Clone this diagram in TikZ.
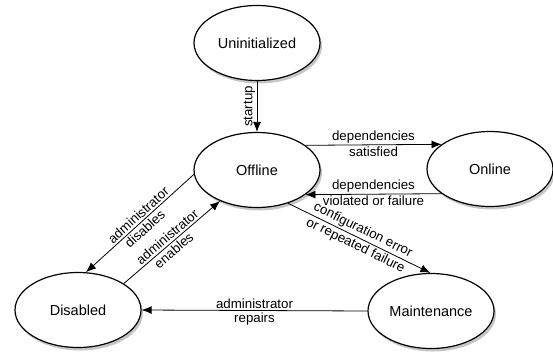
\documentclass[tikz,border=0pt]{standalone}
\usepackage{fontspec}
\setmainfont{Liberation Sans}
\usetikzlibrary{shapes,arrows.meta,shadows}

\begin{document}
\begin{tikzpicture}[x=1pt, y=-1pt,
    state/.style={ellipse, draw, line width=1.2pt, fill=white, minimum width=126pt, minimum height=75pt, inner sep=0pt, font=\fontsize{14.5}{17}\selectfont, drop shadow={opacity=0.45, shadow xshift=2pt, shadow yshift=-3pt}},
    trans/.style={-{Latex[length=10pt,width=8pt]}, line width=0.8pt},
    lbl/.style={font=\fontsize{13.3}{15}\selectfont, inner sep=1.5pt},
    slbl/.style={lbl, sloped, inner sep=2pt}
]
\useasboundingbox (0,0) rectangle (553,353);

% States
\node[state] (uninit) at (257,43) {Uninitialized};
\node[state] (offline) at (257,170) {Offline};
\node[state] (online) at (490,169) {Online};
\node[state] (disabled) at (78,310) {Disabled};
\node[state] (maint) at (431,311) {Maintenance};

% Transitions
\draw[trans] (uninit.south) -- (offline.north)
    node[lbl, midway, rotate=90, anchor=south] {startup};
\draw[trans] (offline.27) -- (online.153)
    node[lbl, midway, above] {dependencies}
    node[lbl, midway, below] {satisfied};
\draw[trans] (online.207) -- (offline.333)
    node[lbl, midway, above] {dependencies}
    node[lbl, midway, below] {violated or failure};
\draw[trans] (offline.184) -- (disabled.78)
    node[slbl, pos=0.47, above] {administrator}
    node[slbl, pos=0.5, below] {disables};
\draw[trans] (disabled.30) -- (offline.220)
    node[slbl, pos=0.5, above] {administrator}
    node[slbl, pos=0.47, below] {enables};
\draw[trans] (offline.313) -- (maint.91)
    node[slbl, midway, above] {configuration error}
    node[slbl, midway, below] {or repeated failure};
\draw[trans] (maint.west) -- (disabled.east)
    node[lbl, midway, above] {administrator}
    node[lbl, midway, below] {repairs};

\end{tikzpicture}
\end{document}
